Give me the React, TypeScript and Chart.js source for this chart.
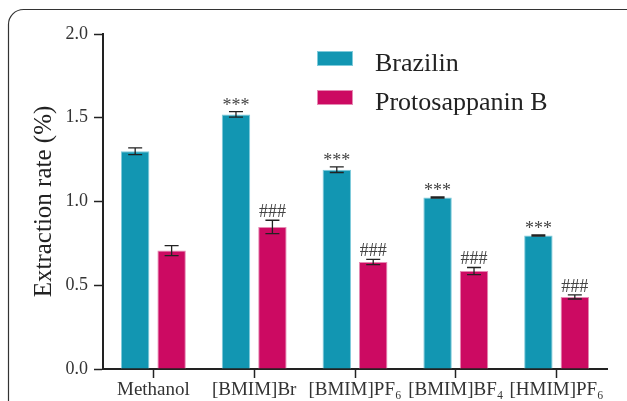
import { useEffect, useRef } from "react";
import { Chart, registerables } from "chart.js";

Chart.register(...registerables);

// Solvents compared
const categories = ["Methanol", "[BMIM]Br", "[BMIM]PF₆", "[BMIM]BF₄", "[HMIM]PF₆"];

// Extraction rate (%) and standard deviations
const brazilin = [1.3, 1.52, 1.19, 1.024, 0.797];
const brazilinSd = [0.02, 0.016, 0.017, 0.004, 0.004];
const protosappaninB = [0.707, 0.848, 0.639, 0.585, 0.43];
const protosappaninBSd = [0.03, 0.04, 0.016, 0.021, 0.012];

// Significance markers versus methanol
const brazilinMarks = ["", "***", "***", "***", "***"];
const protosappaninBMarks = ["", "###", "###", "###", "###"];

const yMin = 0;
const yMax = 2;
const yStep = 0.5;

const SERIF = '"Liberation Serif", "Times New Roman", serif';
const TEAL = "#1296b2";
const TEAL_EDGE = "#7fcbdb";
const MAGENTA = "#cc0a62";
const MAGENTA_EDGE = "#e58ab3";
const INK = "#222222";

const sdSets = [brazilinSd, protosappaninBSd];
const markSets = [brazilinMarks, protosappaninBMarks];

// Rounded outer frame
const framePlugin = {
  id: "frame",
  beforeDraw(chart: any) {
    const ctx = chart.ctx;
    ctx.save();
    ctx.strokeStyle = "#333";
    ctx.lineWidth = 1.2;
    ctx.beginPath();
    ctx.roundRect(8.5, 9.5, 680, 440, 15);
    ctx.stroke();
    ctx.restore();
  },
};

// Error bars with caps, plus significance markers above them
const errorBarPlugin = {
  id: "errorBars",
  afterDatasetsDraw(chart: any) {
    const ctx = chart.ctx;
    const y = chart.scales.y;
    ctx.save();
    chart.data.datasets.forEach((ds: any, di: number) => {
      const meta = chart.getDatasetMeta(di);
      const sd = sdSets[di];
      const marks = markSets[di];
      meta.data.forEach((bar: any, i: number) => {
        const v = ds.data[i];
        const top = y.getPixelForValue(v + sd[i]);
        const bot = y.getPixelForValue(v - sd[i]);
        const x = bar.x;
        const cap = 7;
        ctx.strokeStyle = INK;
        ctx.lineWidth = 1.3;
        ctx.beginPath();
        ctx.moveTo(x, top);
        ctx.lineTo(x, bot);
        ctx.moveTo(x - cap, top);
        ctx.lineTo(x + cap, top);
        ctx.moveTo(x - cap, bot);
        ctx.lineTo(x + cap, bot);
        ctx.stroke();
        if (marks[i]) {
          ctx.fillStyle = "#444";
          ctx.font = `18px ${SERIF}`;
          ctx.textAlign = "center";
          ctx.textBaseline = "alphabetic";
          const lift = marks[i].startsWith("*") ? 1 : 3;
          ctx.fillText(marks[i], x, top - lift);
        }
      });
    });
    ctx.restore();
  },
};

// Legend drawn inside the plot area
const legendPlugin = {
  id: "insideLegend",
  afterDraw(chart: any) {
    const ctx = chart.ctx;
    const area = chart.chartArea;
    const boxX = area.left + 214;
    const textX = area.left + 272;
    ctx.save();
    chart.data.datasets.forEach((ds: any, i: number) => {
      const boxY = area.top + 17 + i * 39;
      ctx.fillStyle = ds.backgroundColor;
      ctx.fillRect(boxX, boxY, 36, 15);
      ctx.strokeStyle = ds.borderColor;
      ctx.lineWidth = 1;
      ctx.strokeRect(boxX + 0.5, boxY + 0.5, 35, 14);
      ctx.fillStyle = INK;
      ctx.font = `26px ${SERIF}`;
      ctx.textAlign = "left";
      ctx.textBaseline = "alphabetic";
      ctx.fillText(ds.label, textX, boxY + 20);
    });
    ctx.restore();
  },
};

export default function App() {
  const ref = useRef<HTMLCanvasElement>(null);

  useEffect(() => {
    if (!ref.current) return;
    const chart = new Chart(ref.current, {
      type: "bar",
      data: {
        labels: categories,
        datasets: [
          {
            label: "Brazilin",
            data: brazilin,
            backgroundColor: TEAL,
            borderColor: TEAL_EDGE,
            borderWidth: 1,
            categoryPercentage: 0.723,
            barPercentage: 0.78,
          },
          {
            label: "Protosappanin B",
            data: protosappaninB,
            backgroundColor: MAGENTA,
            borderColor: MAGENTA_EDGE,
            borderWidth: 1,
            categoryPercentage: 0.723,
            barPercentage: 0.78,
          },
        ],
      },
      options: {
        responsive: false,
        animation: false,
        devicePixelRatio: 1,
        layout: { padding: { top: 34, right: 20, left: 0, bottom: 0 } },
        plugins: {
          legend: { display: false },
          tooltip: { enabled: false },
        },
        scales: {
          x: {
            type: "category",
            afterFit: (s: any) => {
              s.height = 32;
            },
            grid: {
              display: true,
              drawOnChartArea: false,
              offset: false,
              tickLength: 9,
              tickColor: INK,
              tickWidth: 1.5,
            },
            border: { display: true, color: INK, width: 2 },
            ticks: {
              font: { family: SERIF, size: 19 },
              color: "#333",
              padding: 1,
              maxRotation: 0,
              autoSkip: false,
            },
          },
          y: {
            min: yMin,
            max: yMax,
            afterFit: (s: any) => {
              s.width = 103;
            },
            grid: {
              display: true,
              drawOnChartArea: false,
              tickLength: 9,
              tickColor: INK,
              tickWidth: 1.5,
            },
            border: { display: true, color: INK, width: 2 },
            ticks: {
              stepSize: yStep,
              font: { family: SERIF, size: 18 },
              color: "#333",
              padding: 6,
              callback: (v: any) => Number(v).toFixed(1),
            },
            title: {
              display: true,
              text: "Extraction rate (%)",
              font: { family: SERIF, size: 25 },
              color: INK,
              padding: { top: 29, bottom: 0 },
            },
          },
        },
      },
      plugins: [framePlugin, errorBarPlugin, legendPlugin],
    });
    return () => chart.destroy();
  }, []);

  return (
    <canvas
      ref={ref}
      width={627}
      height={401}
      style={{ position: "fixed", left: 0, top: 0, width: 627, height: 401, background: "#fff" }}
    />
  );
}
